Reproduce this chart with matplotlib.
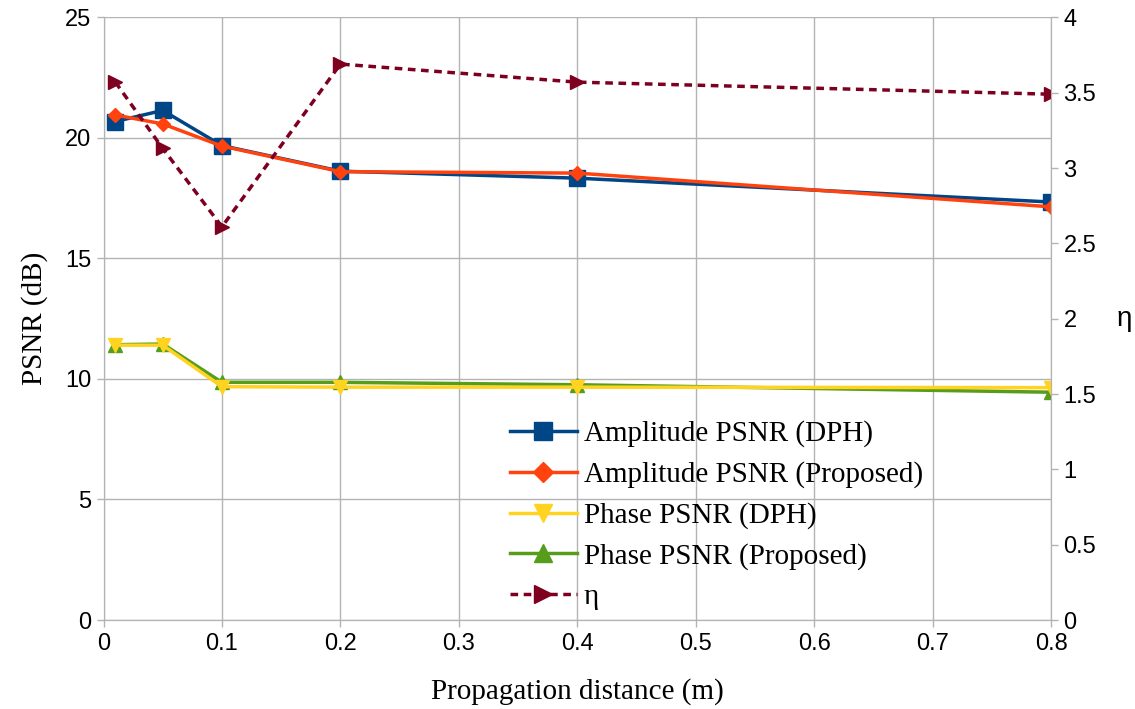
import matplotlib
matplotlib.use("Agg")
import matplotlib.pyplot as plt

# propagation distance (m)
distance = [0.01, 0.05, 0.1, 0.2, 0.4, 0.8]

amp_dph = [20.68, 21.14, 19.68, 18.62, 18.33, 17.34]
amp_proposed = [20.95, 20.58, 19.66, 18.6, 18.54, 17.14]
phase_dph = [11.4, 11.4, 9.68, 9.66, 9.66, 9.64]
phase_proposed = [11.42, 11.45, 9.86, 9.86, 9.76, 9.45]
eta = [3.57, 3.13, 2.61, 3.69, 3.57, 3.49]

grid_col = "#b3b3b3"

fig = plt.figure(figsize=(11.35, 7.09), dpi=100)
ax = fig.add_axes([0.0912, 0.1255, 0.8348, 0.850])
ax2 = ax.twinx()

l1, = ax.plot(distance, amp_dph, color="#004586", lw=2.5, marker="s", ms=11, label="Amplitude PSNR (DPH)")
l2, = ax.plot(distance, amp_proposed, color="#ff420e", lw=2.5, marker="D", ms=7, label="Amplitude PSNR (Proposed)")
l3, = ax.plot(distance, phase_dph, color="#ffd320", lw=2.5, marker="v", ms=10, label="Phase PSNR (DPH)")
l4, = ax.plot(distance, phase_proposed, color="#579d1c", lw=2.5, marker="^", ms=10, label="Phase PSNR (Proposed)")
l5, = ax2.plot(distance, eta, color="#7e0021", lw=2.5, ls=(0, (2.2, 1.6)), marker=">", ms=10, label="η")
l4.set_zorder(2)
l3.set_zorder(3)

ax.set_xlim(0, 0.8)
ax.set_ylim(0, 25)
ax2.set_ylim(0, 4)
ax.set_xticks([0, 0.1, 0.2, 0.3, 0.4, 0.5, 0.6, 0.7, 0.8])
ax.set_xticklabels(["0", "0.1", "0.2", "0.3", "0.4", "0.5", "0.6", "0.7", "0.8"])
ax.set_yticks([0, 5, 10, 15, 20, 25])
ax2.set_yticks([0, 0.5, 1, 1.5, 2, 2.5, 3, 3.5, 4])
ax2.set_yticklabels(["0", "0.5", "1", "1.5", "2", "2.5", "3", "3.5", "4"])

ax.grid(True, color=grid_col, lw=1)
ax.set_axisbelow(True)

for a in (ax, ax2):
    for s in a.spines.values():
        s.set_color(grid_col)
    a.spines["top"].set_visible(False)
    a.tick_params(colors=grid_col, labelcolor="black", labelsize=17, length=5, width=1,
                  labelfontfamily="Liberation Sans", pad=4)

label_font = {"family": "Liberation Serif", "size": 21}
ax.set_xlabel("Propagation distance (m)", fontdict=label_font, labelpad=17)
ax.set_ylabel("PSNR (dB)", fontdict=label_font, labelpad=12)
ax2.set_ylabel("η", fontdict={"family": "Liberation Sans", "size": 20}, rotation=0, labelpad=20, va="center")

leg = ax2.legend(handles=[l1, l2, l3, l4, l5], loc="lower left", bbox_to_anchor=(0.407, -0.018),
                 frameon=False, prop={"family": "Liberation Serif", "size": 21},
                 handlelength=2.3, handletextpad=0.25, labelspacing=0.48, borderpad=0.2)
for h, ms in zip(leg.legend_handles, [13, 10, 13, 13, 13]):
    h.set_markersize(ms)

fig.savefig("out.png", dpi=100)
